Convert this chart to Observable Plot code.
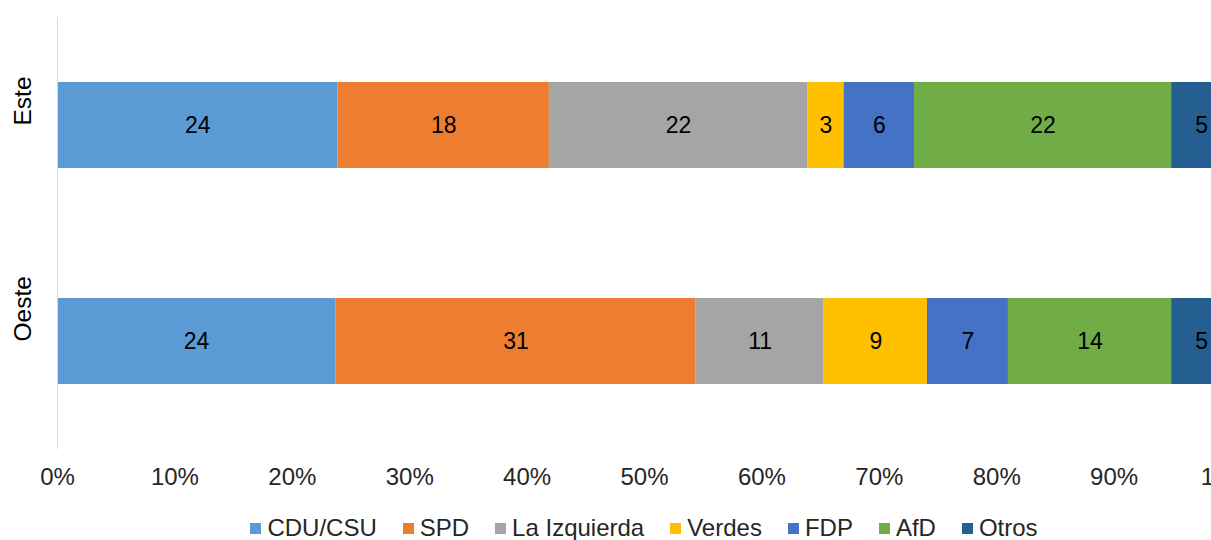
<!DOCTYPE html>
<html>
<head>
<meta charset="utf-8">
<script src="https://cdn.jsdelivr.net/npm/d3@7"></script>
<script src="https://cdn.jsdelivr.net/npm/@observablehq/plot@0.6"></script>
<style>
  html, body { margin: 0; padding: 0; background: #fff; overflow: hidden; }
  #wrap { position: relative; width: 1280px; height: 540px; font-family: "Liberation Sans", Arial, sans-serif; }
  #legend { position: absolute; left: 57px; width: 1174px; top: 514px; display: flex; justify-content: center; align-items: center; font-size: 24px; color: #262626; }
  .item { display: inline-flex; align-items: center; margin: 0 13px; }
  .sw { width: 11px; height: 11px; margin-right: 6px; display: inline-block; }
</style>
</head>
<body>
<div id="wrap"></div>
<script>
const regions = ["Este", "Oeste"];
const parties = ["CDU/CSU", "SPD", "La Izquierda", "Verdes", "FDP", "AfD", "Otros"];
const colors = ["#5b9bd5", "#ed7d31", "#a5a5a5", "#ffc000", "#4472c4", "#70ad47", "#255e91"];
const este = [23.9, 18.0, 22.0, 3.1, 6.0, 21.9, 5.1];
const oeste = [23.7, 30.7, 10.9, 8.8, 6.9, 13.9, 5.1];
const xTicks = [0, 0.1, 0.2, 0.3, 0.4, 0.5, 0.6, 0.7, 0.8, 0.9, 1];

const data = [];
parties.forEach((p, i) => data.push({region: "Este", party: p, value: este[i]}));
parties.forEach((p, i) => data.push({region: "Oeste", party: p, value: oeste[i]}));

const chart = Plot.plot({
  width: 1280,
  height: 505,
  marginLeft: 57,
  marginRight: 49,
  marginTop: 17,
  marginBottom: 56,
  style: {fontFamily: "'Liberation Sans', Arial, sans-serif", fontSize: "23px", color: "#262626", background: "#fff"},
  x: {domain: [0, 1], label: null},
  y: {domain: regions, paddingInner: 0.6, paddingOuter: 0.3, axis: null},
  color: {domain: parties, range: colors},
  marks: [
    Plot.barX(data, Plot.stackX({x: "value", y: "region", fill: "party", offset: "normalize"})),
    Plot.text(data, Plot.stackX({x: "value", y: "region", z: "party", offset: "normalize", text: d => Math.round(d.value), fill: "#000", fontSize: 23})),
    Plot.ruleX([0], {stroke: "#d9d9d9", strokeWidth: 1}),
    Plot.axisX({ticks: xTicks, tickFormat: d => Math.round(d * 100) + "%", tickSize: 0, tickPadding: 18, fontSize: 24, fill: "#262626", label: null}),
    Plot.text(regions, {y: d => d, text: d => d, frameAnchor: "left", dx: -34, rotate: -90, fontSize: 24.5, fill: "#000"})
  ]
});
document.getElementById("wrap").appendChild(chart);

const legend = document.createElement("div");
legend.id = "legend";
parties.forEach((p, i) => {
  const it = document.createElement("span");
  it.className = "item";
  const sw = document.createElement("span");
  sw.className = "sw";
  sw.style.background = colors[i];
  it.appendChild(sw);
  it.appendChild(document.createTextNode(p));
  legend.appendChild(it);
});
document.getElementById("wrap").appendChild(legend);
</script>
</body>
</html>
